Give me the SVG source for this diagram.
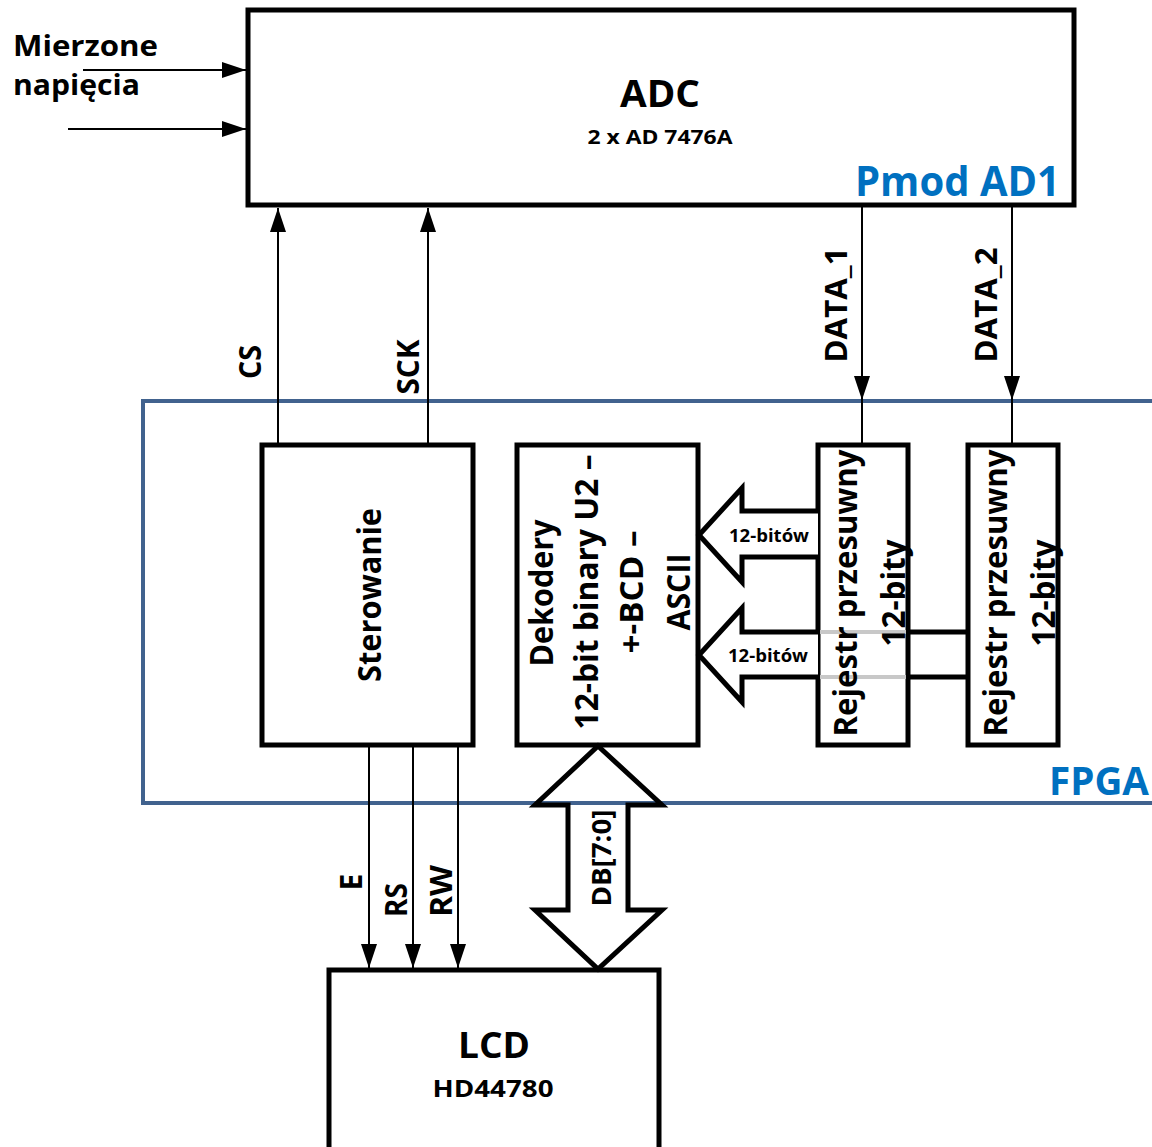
<svg xmlns="http://www.w3.org/2000/svg" width="1152" height="1147" viewBox="0 0 1152 1147">
<style>
.box{fill:#fff;stroke:#000;stroke-width:5}
.t{font-family:"Open Sans",Lato,"Liberation Sans",sans-serif;font-weight:bold;fill:#000}
.blue{fill:#0070C0}
.wire{stroke:#000;stroke-width:2;fill:none}
.bus{fill:#fff;stroke:#000;stroke-width:5;stroke-linejoin:miter}
</style>
<defs>
<marker id="ah" viewBox="0 0 24 16" refX="24" refY="8" markerWidth="24" markerHeight="16" markerUnits="userSpaceOnUse" orient="auto">
<path d="M0,0 L24,8 L0,16 z" fill="#000"/>
</marker>
</defs>
<rect width="1152" height="1147" fill="#fff"/>

<g id="fpga">
<rect x="143" y="401" width="1030" height="402" fill="none" stroke="#41628E" stroke-width="4"/>
<text class="t blue" x="1049" y="795" font-size="39" textLength="100" lengthAdjust="spacingAndGlyphs">FPGA</text>
</g>

<g id="adc">
<rect class="box" x="248" y="10" width="826" height="195"/>
<text class="t" x="660" y="107" font-size="38" text-anchor="middle" textLength="80" lengthAdjust="spacingAndGlyphs">ADC</text>
<text class="t" x="660" y="144" font-size="20" text-anchor="middle" textLength="145" lengthAdjust="spacingAndGlyphs">2 x AD 7476A</text>
<text class="t blue" x="855" y="196" font-size="42" textLength="205" lengthAdjust="spacingAndGlyphs">Pmod AD1</text>
</g>

<g id="inputs-label">
<text class="t" x="13" y="56" font-size="29" textLength="145" lengthAdjust="spacingAndGlyphs">Mierzone</text>
<text class="t" x="13" y="95" font-size="29" textLength="127" lengthAdjust="spacingAndGlyphs">napięcia</text>
</g>

<g id="sterowanie">
<rect class="box" x="262" y="445" width="211" height="300"/>
<text class="t" transform="translate(381,595) rotate(-90)" font-size="32" text-anchor="middle" textLength="174" lengthAdjust="spacingAndGlyphs">Sterowanie</text>
</g>

<g id="dekodery">
<rect class="box" x="517" y="445" width="181" height="300"/>
<text class="t" transform="translate(553,593) rotate(-90)" font-size="32" text-anchor="middle" textLength="147" lengthAdjust="spacingAndGlyphs">Dekodery</text>
<text class="t" transform="translate(598,592) rotate(-90)" font-size="32" text-anchor="middle" textLength="275" lengthAdjust="spacingAndGlyphs">12-bit binary U2 –</text>
<text class="t" transform="translate(643,592) rotate(-90)" font-size="32" text-anchor="middle" textLength="123" lengthAdjust="spacingAndGlyphs">+-BCD –</text>
<text class="t" transform="translate(690,592) rotate(-90)" font-size="32" text-anchor="middle" textLength="77" lengthAdjust="spacingAndGlyphs">ASCII</text>
</g>

<g id="rejestr1">
<rect class="box" x="818" y="445" width="90" height="300"/>
</g>
<g id="rejestr2">
<rect class="box" x="968" y="445" width="90" height="300"/>
</g>

<g id="lcd">
<rect class="box" x="329" y="970" width="330" height="200"/>
<text class="t" x="494" y="1058" font-size="36" text-anchor="middle" textLength="72" lengthAdjust="spacingAndGlyphs">LCD</text>
<text class="t" x="493" y="1097" font-size="24" text-anchor="middle" textLength="121" lengthAdjust="spacingAndGlyphs">HD44780</text>
</g>

<g id="connectors">
<line class="wire" x1="83" y1="70" x2="246" y2="70" marker-end="url(#ah)"/>
<line class="wire" x1="68" y1="129" x2="246" y2="129" marker-end="url(#ah)"/>
<line class="wire" x1="278" y1="445" x2="278" y2="208" marker-end="url(#ah)"/>
<line class="wire" x1="428" y1="445" x2="428" y2="208" marker-end="url(#ah)"/>
<line class="wire" x1="862" y1="207" x2="862" y2="400" marker-end="url(#ah)"/>
<line class="wire" x1="862" y1="400" x2="862" y2="445"/>
<line class="wire" x1="1012" y1="207" x2="1012" y2="400" marker-end="url(#ah)"/>
<line class="wire" x1="1012" y1="400" x2="1012" y2="445"/>
<line class="wire" x1="369" y1="745" x2="369" y2="968" marker-end="url(#ah)"/>
<line class="wire" x1="413" y1="745" x2="413" y2="968" marker-end="url(#ah)"/>
<line class="wire" x1="458" y1="745" x2="458" y2="968" marker-end="url(#ah)"/>

<polyline class="bus" points="818,511 742,511 742,488 699,535 742,582 742,557 818,557"/>
<polyline class="bus" points="818,632 742,632 742,608 699,655 742,702 742,677 818,677"/>
<line x1="820" y1="632" x2="906" y2="632" stroke="#c8c8c8" stroke-width="4"/>
<line x1="820" y1="677" x2="906" y2="677" stroke="#c8c8c8" stroke-width="4"/>
<line x1="908" y1="632" x2="968" y2="632" stroke="#000" stroke-width="5"/>
<line x1="908" y1="677" x2="968" y2="677" stroke="#000" stroke-width="5"/>

<polygon points="598,746 662,805 628,805 628,910 662,910 598,969 535,910 568,910 568,805 535,805" fill="none" stroke="#000" stroke-width="5" stroke-linejoin="miter"/>

<text class="t" x="769" y="542" font-size="17" text-anchor="middle" textLength="80" lengthAdjust="spacingAndGlyphs">12-bitów</text>
<text class="t" x="768" y="662" font-size="17" text-anchor="middle" textLength="80" lengthAdjust="spacingAndGlyphs">12-bitów</text>
<text class="t" transform="translate(261,362) rotate(-90)" font-size="30" text-anchor="middle" textLength="34" lengthAdjust="spacingAndGlyphs">CS</text>
<text class="t" transform="translate(419,367) rotate(-90)" font-size="30" text-anchor="middle" textLength="55" lengthAdjust="spacingAndGlyphs">SCK</text>
<text class="t" transform="translate(847,305) rotate(-90)" font-size="30" text-anchor="middle" textLength="115" lengthAdjust="spacingAndGlyphs">DATA_1</text>
<text class="t" transform="translate(997,305) rotate(-90)" font-size="30" text-anchor="middle" textLength="115" lengthAdjust="spacingAndGlyphs">DATA_2</text>
<text class="t" transform="translate(362,882) rotate(-90)" font-size="30" text-anchor="middle">E</text>
<text class="t" transform="translate(407,900) rotate(-90)" font-size="30" text-anchor="middle" textLength="34" lengthAdjust="spacingAndGlyphs">RS</text>
<text class="t" transform="translate(452,891) rotate(-90)" font-size="30" text-anchor="middle" textLength="52" lengthAdjust="spacingAndGlyphs">RW</text>
<text class="t" transform="translate(611,858) rotate(-90)" font-size="26" text-anchor="middle" textLength="97" lengthAdjust="spacingAndGlyphs">DB[7:0]</text>
</g>

<g id="rejestr-labels">
<text class="t" transform="translate(857,593) rotate(-90)" font-size="33" text-anchor="middle" textLength="287" lengthAdjust="spacingAndGlyphs">Rejestr przesuwny</text>
<text class="t" transform="translate(905,593) rotate(-90)" font-size="33" text-anchor="middle" textLength="107" lengthAdjust="spacingAndGlyphs">12-bity</text>
<text class="t" transform="translate(1007,593) rotate(-90)" font-size="33" text-anchor="middle" textLength="287" lengthAdjust="spacingAndGlyphs">Rejestr przesuwny</text>
<text class="t" transform="translate(1055,593) rotate(-90)" font-size="33" text-anchor="middle" textLength="107" lengthAdjust="spacingAndGlyphs">12-bity</text>
</g>
</svg>
